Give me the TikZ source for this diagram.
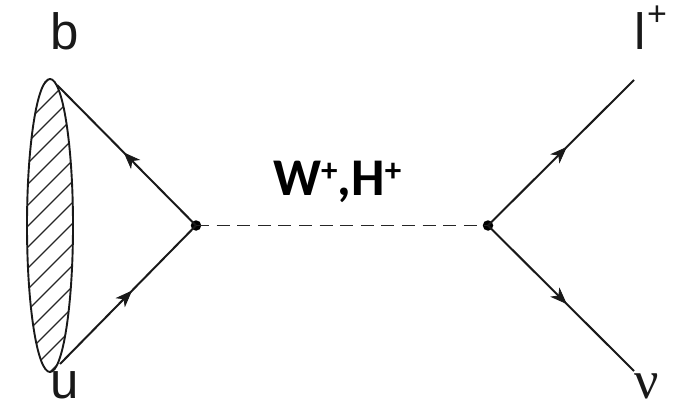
\documentclass[tikz,border=0pt]{standalone}
\usepackage{fontspec}
\setmainfont{Liberation Sans}
\newfontfamily\calib{Carlito}
\newfontfamily\serifnu{Liberation Serif}
\usetikzlibrary{arrows.meta,decorations.markings,calc}
\tikzset{
  fermion/.style={line width=2pt,draw=black!90,postaction={decorate},
    decoration={markings,mark=at position #1 with {\arrow[line width=0.8pt]{Stealth[length=17pt,width=13pt,inset=5pt]}}}},
  vertexdot/.style={circle,fill=black,inner sep=0pt,minimum size=10.5pt},
  hatch/.style={line width=1.2pt,draw=black!85},
  boson/.style={line width=1.6pt,draw=black!85,dash pattern=on 13pt off 7.6pt},
  lbl/.style={inner sep=0pt,anchor=base,font=\fontsize{51}{51}\selectfont,text=black!90},
}
\begin{document}
\begin{tikzpicture}[x=1pt,y=-1pt]
\useasboundingbox (0,0) rectangle (673,404);
\fill[white] (0,0) rectangle (673,404);
\coordinate (blobc) at (50,225.5);
\coordinate (bt) at (57,85);
\coordinate (bb) at (60,364);
\coordinate (lp) at (634,80);
\coordinate (nu) at (634,371);
\node[vertexdot] (v1) at (196,225.5) {};
\node[vertexdot] (v2) at (488,225.5) {};
\begin{scope}
  \clip (blobc) ellipse [x radius=23pt,y radius=146.5pt];
  \foreach \y in {-60,-39,...,440}
    \draw[hatch] (20,\y) -- (80,\y-60);
\end{scope}
\draw[line width=1.9pt,draw=black!90] (blobc) ellipse [x radius=23pt,y radius=146.5pt];
\draw[fermion=0.52] (v1.center) -- (bt);
\draw[fermion=0.53] (bb) -- (v1.center);
\draw[boson] (v1.center) -- (v2.center);
\draw[fermion=0.54] (v2.center) -- (lp);
\draw[fermion=0.54] (v2.center) -- (nu);
\node[lbl] (b) at (65,50) {b};
\node[lbl] (u) at (65,398) {u};
\node[lbl,anchor=base west] (l) at (634,50) {l};
\node[inner sep=0pt,anchor=center,font=\fontsize{34}{34}\selectfont,text=black!90] (plus) at (657,16) {+};
\node[inner sep=0pt,anchor=base,font=\serifnu\fontsize{54}{54}\selectfont,text=black!90] (nulabel) at (647,398) {ν};
\node[inner sep=0pt,anchor=base west,font=\calib\bfseries\fontsize{53}{53}\selectfont] (wh) at (273,195) {W\raisebox{14pt}{\fontsize{33}{33}\selectfont +},H\raisebox{14pt}{\fontsize{33}{33}\selectfont +}};
\end{tikzpicture}
\end{document}
